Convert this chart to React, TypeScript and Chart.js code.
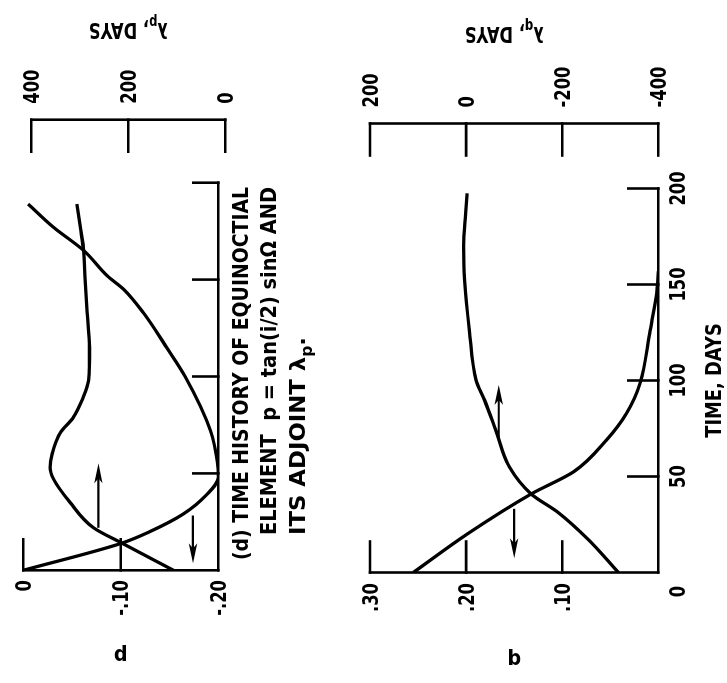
import React, { useEffect, useRef } from "react";
import { Chart, registerables } from "chart.js";
Chart.register(...registerables);

// ---------- data ----------
const timeTicks = [0, 50, 100, 150, 200];

// panel (d): p and its adjoint lambda_p
const pTime = [0, 14, 20, 29, 39, 48, 56, 72, 100, 115, 133, 145, 152, 165, 177, 189];
const pValue = [0, -0.101, -0.13, -0.164, -0.188, -0.2, -0.199, -0.192, -0.166, -0.147, -0.123, -0.103, -0.086, -0.062, -0.031, -0.005];
const lpTime = [0, 14, 22, 35, 47, 53, 60, 71, 79, 88, 98, 115, 133, 150, 165, 177, 189];
const lpValue = [107, 213, 272, 320, 354, 361, 357, 340, 313, 295, 282, 280, 285, 289, 292, 299, 306];
const pTicks = [0, -0.1, -0.2];
const pTickLabels = ["0", "-.10", "-.20"];
const lpTicks = [400, 200, 0];
const lpTickLabels = ["400", "200", "0"];
const lpRange = [14.4, 416.5];
const pArrowTail = [[22.5, -0.077], [27.7, -0.174]];
const pArrowHead = [[55.2, -0.077], [3.6, -0.174]];
const captionLines = ["(d) TIME HISTORY OF EQUINOCTIAL", "ELEMENT  p = tan(i/2) sin\u03a9 AND", "ITS ADJOINT \u03bb"];

// panel: q and its adjoint lambda_q
const qTime = [0, 20, 41, 52.5, 69, 83, 98.5, 126, 145, 157];
const qValue = [0.255, 0.199, 0.132, 0.088, 0.054, 0.033, 0.019, 0.0086, 0.0017, 0];
const lqTime = [0, 17, 31, 41, 55, 74, 90, 100, 126, 152, 170, 187, 197.5];
const lqValue = [-317, -255, -193, -135, -90, -62, -38, -21, -7, 3, 5, 1, -2];
const qTicks = [0.3, 0.2, 0.1, 0];
const qTickLabels = [".30", ".20", ".10", ""];
const lqTicks = [200, 0, -200, -400];
const lqTickLabels = ["200", "0", "-200", "-400"];
const qArrowTail = [[69.9, 0.166], [32.6, 0.15]];
const qArrowHead = [[97.7, 0.166], [7.4, 0.15]];

// ---------- drawing helpers ----------
const FONT = '"DejaVu Sans", "Liberation Sans", sans-serif';
type Part = { t: string; sub?: boolean };

function drawRich(
  ctx: CanvasRenderingContext2D,
  parts: Part[],
  x: number,
  y: number,
  size: number,
  align: "left" | "center" | "right",
  sx: number,
  rot = 0,
  width = 0
) {
  ctx.save();
  ctx.translate(x, y);
  if (rot) ctx.rotate(rot);
  const fontOf = (sub?: boolean) => `bold ${sub ? Math.round(size * 0.7) : size}px ${FONT}`;
  let total = 0;
  const ws = parts.map((p) => {
    ctx.font = fontOf(p.sub);
    const w = ctx.measureText(p.t).width;
    total += w;
    return w;
  });
  const s = width ? width / total : sx;
  ctx.scale(s, 1);
  let cx = align === "left" ? 0 : align === "center" ? -total / 2 : -total;
  ctx.textAlign = "left";
  ctx.textBaseline = "alphabetic";
  ctx.fillStyle = "#000";
  const base = size * 0.365;
  parts.forEach((p, i) => {
    ctx.font = fontOf(p.sub);
    ctx.fillText(p.t, cx, base + (p.sub ? size * 0.3 : 0));
    cx += ws[i];
  });
  ctx.restore();
}

function seg(ctx: CanvasRenderingContext2D, x1: number, y1: number, x2: number, y2: number) {
  ctx.beginPath();
  ctx.moveTo(x1, y1);
  ctx.lineTo(x2, y2);
  ctx.stroke();
}

function arrow(ctx: CanvasRenderingContext2D, x1: number, y1: number, x2: number, y2: number) {
  const dx = x2 - x1, dy = y2 - y1;
  const len = Math.hypot(dx, dy);
  const ux = dx / len, uy = dy / len;
  const hl = 20, hw = 4.2;
  ctx.lineWidth = 2.2;
  seg(ctx, x1, y1, x2 - ux * hl * 0.6, y2 - uy * hl * 0.6);
  ctx.beginPath();
  ctx.moveTo(x2, y2);
  ctx.lineTo(x2 - ux * hl - uy * hw, y2 - uy * hl + ux * hw);
  ctx.lineTo(x2 - ux * hl * 0.75, y2 - uy * hl * 0.75);
  ctx.lineTo(x2 - ux * hl + uy * hw, y2 - uy * hl - ux * hw);
  ctx.closePath();
  ctx.fill();
}

const LBL = 21;
const SX = 0.78;

function panelPlugin(kind: "p" | "q") {
  return {
    id: "axes_" + kind,
    afterDraw(chart: any) {
      const ctx: CanvasRenderingContext2D = chart.ctx;
      const x = chart.scales.x;
      const ys = chart.scales[kind];
      const yl = chart.scales["l" + kind];
      const ticks = kind === "p" ? pTicks : qTicks;
      const tickLabels = kind === "p" ? pTickLabels : qTickLabels;
      const lTicks = kind === "p" ? lpTicks : lqTicks;
      const lLabels = kind === "p" ? lpTickLabels : lqTickLabels;
      const tails = kind === "p" ? pArrowTail : qArrowTail;
      const heads = kind === "p" ? pArrowHead : qArrowHead;
      const x0 = x.getPixelForValue(0);
      const x200 = x.getPixelForValue(200);
      const yTop = ys.getPixelForValue(ticks[0]);
      const yBot = ys.getPixelForValue(ticks[ticks.length - 1]);
      ctx.save();
      ctx.strokeStyle = "#000";
      ctx.fillStyle = "#000";
      ctx.lineWidth = 2.6;
      ctx.lineCap = "square";
      // left axis and bottom (time) axis
      seg(ctx, x0, yTop, x0, yBot);
      seg(ctx, x0, yBot, x200, yBot);
      ticks.forEach((v, i) => {
        const py = ys.getPixelForValue(v);
        if (i < ticks.length - 1) seg(ctx, x0, py, x0 + 31, py);
        if (tickLabels[i]) drawRich(ctx, [{ t: tickLabels[i] }], kind === "p" ? 103 : 100, py, LBL, "right", SX);
      });
      timeTicks.forEach((t) => {
        const px = x.getPixelForValue(t);
        if (t > 0) seg(ctx, px, yBot, px, yBot - (kind === "p" ? 25 : 30));
      });
      // detached adjoint axis
      const ax = x200 + (kind === "p" ? 63 : 65);
      const lyTop = yl.getPixelForValue(lTicks[0]);
      const lyBot = yl.getPixelForValue(lTicks[lTicks.length - 1]);
      seg(ctx, ax, lyTop, ax, lyBot);
      lTicks.forEach((v, i) => {
        const py = yl.getPixelForValue(v);
        seg(ctx, ax, py, ax - 32, py);
        drawRich(ctx, [{ t: lLabels[i] }], ax + 16, py, LBL, "left", SX);
      });
      // axis titles
      drawRich(ctx, [{ t: kind }], kind === "p" ? 26 : 22, (yTop + yBot) / 2, LBL, "center", 0.9, -Math.PI / 2);
      drawRich(
        ctx,
        [{ t: "\u03bb" }, { t: kind, sub: true }, { t: ", DAYS" }],
        ax + 89,
        (lyTop + lyBot) / 2 + (kind === "p" ? 0 : -10),
        LBL,
        "center",
        SX,
        -Math.PI / 2
      );
      // arrows
      tails.forEach((tl, i) => {
        const hd = heads[i];
        arrow(ctx, x.getPixelForValue(tl[0]), ys.getPixelForValue(tl[1]), x.getPixelForValue(hd[0]), ys.getPixelForValue(hd[1]));
      });
      if (kind === "p") {
        drawRich(ctx, [{ t: captionLines[0] }], 123, 240, 22, "left", SX, 0, 373);
        drawRich(ctx, [{ t: captionLines[1] }], 148, 268, 22, "left", SX, 0, 348);
        drawRich(ctx, [{ t: captionLines[2] }, { t: "p", sub: true }, { t: "." }], 148, 297, 22, "left", SX, 0, 198);
      } else {
        timeTicks.forEach((t, i) => {
          const px = x.getPixelForValue(t) + (i === 0 ? -19 : 0);
          drawRich(ctx, [{ t: String(t) }], px, 337.5, LBL, "center", SX);
        });
        drawRich(ctx, [{ t: "TIME, DAYS" }], x.getPixelForValue(100), 373, LBL, "center", 0.85);
      }
      ctx.restore();
    },
  };
}

function lineSet(ts: number[], vs: number[], axis: string) {
  return {
    data: ts.map((t, i) => ({ x: t, y: vs[i] })),
    yAxisID: axis,
    borderColor: "#000",
    borderWidth: 3.3,
    pointRadius: 0,
    fill: false,
    cubicInterpolationMode: "monotone" as const,
  };
}

function makeConfig(kind: "p" | "q"): any {
  const isP = kind === "p";
  return {
    type: "line",
    data: {
      datasets: isP
        ? [lineSet(pTime, pValue, "p"), lineSet(lpTime, lpValue, "lp")]
        : [lineSet(qTime, qValue, "q"), lineSet(lqTime, lqValue, "lq")],
    },
    options: {
      animation: false,
      responsive: false,
      devicePixelRatio: 1,
      events: [],
      layout: {
        padding: isP
          ? { left: 112.7, right: 182.7, top: 23.3, bottom: 121.7 }
          : { left: 110.5, right: 188.5, top: 30, bottom: 68.7 },
      },
      plugins: { legend: { display: false }, tooltip: { enabled: false }, title: { display: false } },
      scales: isP
        ? {
            x: { type: "linear", min: 0, max: 200, display: false },
            p: { type: "linear", position: "left", min: -0.2, max: 0, display: false },
            lp: { type: "linear", position: "right", min: lpRange[0], max: lpRange[1], display: false },
          }
        : {
            x: { type: "linear", min: 0, max: 200, display: false },
            q: { type: "linear", position: "left", min: 0, max: 0.3, display: false },
            lq: { type: "linear", position: "right", min: -400, max: 200, display: false },
          },
    },
    plugins: [panelPlugin(kind)],
  };
}

export default function App() {
  const pRef = useRef<HTMLCanvasElement>(null);
  const qRef = useRef<HTMLCanvasElement>(null);
  useEffect(() => {
    const c1 = new Chart(pRef.current as HTMLCanvasElement, makeConfig("p"));
    const c2 = new Chart(qRef.current as HTMLCanvasElement, makeConfig("q"));
    return () => {
      c1.destroy();
      c2.destroy();
    };
  }, []);
  return (
    <div style={{ position: "absolute", left: 0, top: 0, width: 727, height: 683, overflow: "hidden", background: "#fff" }}>
      <div
        style={{
          position: "absolute",
          left: 22,
          top: -22,
          width: 683,
          height: 727,
          transform: "rotate(-90deg)",
          transformOrigin: "50% 50%",
        }}
      >
        <canvas ref={pRef} width={683} height={340} style={{ position: "absolute", left: 0, top: 0, width: 683, height: 340 }} />
        <canvas ref={qRef} width={683} height={387} style={{ position: "absolute", left: 0, top: 340, width: 683, height: 387 }} />
      </div>
    </div>
  );
}
